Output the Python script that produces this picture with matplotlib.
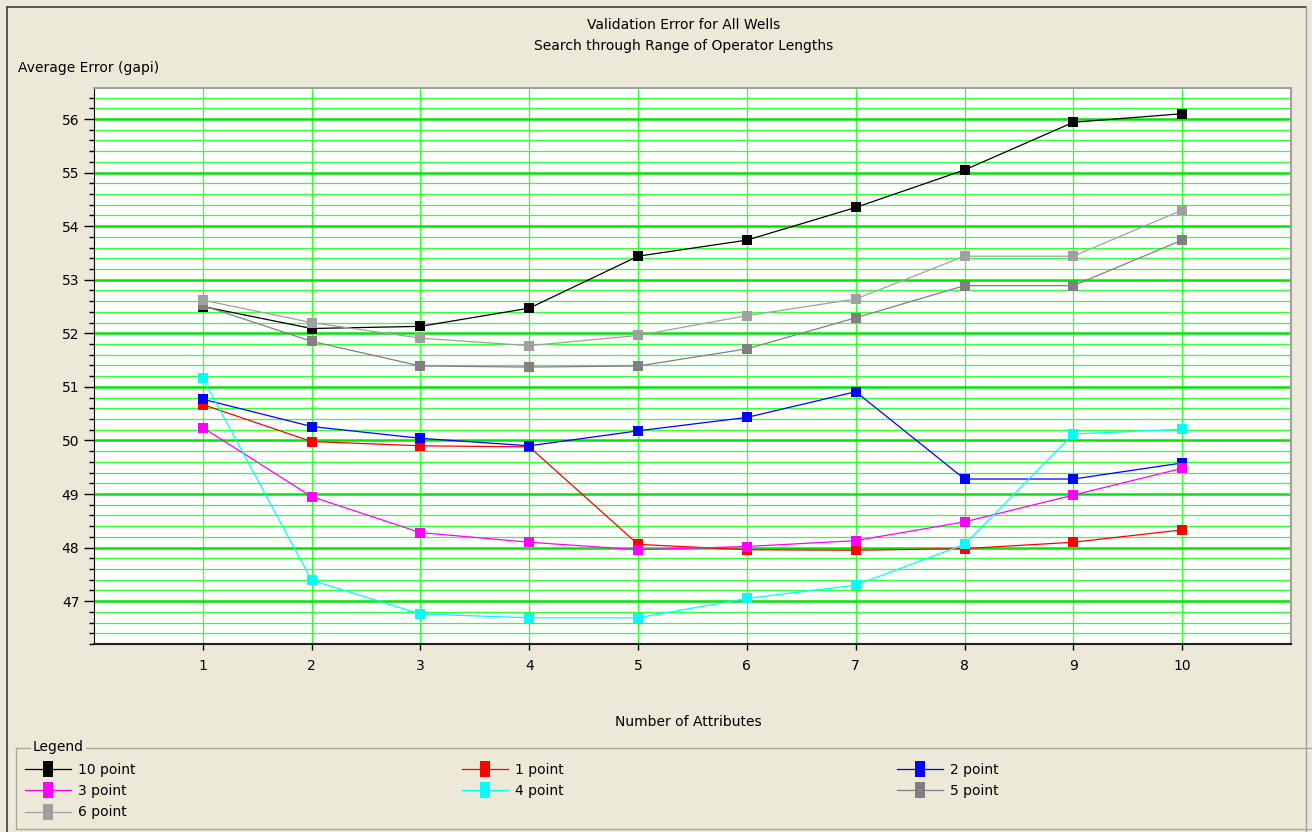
import matplotlib
matplotlib.use("Agg")
import matplotlib.pyplot as plt
from matplotlib.lines import Line2D
from matplotlib.patches import Rectangle
from matplotlib.ticker import MultipleLocator

attributes = [1, 2, 3, 4, 5, 6, 7, 8, 9, 10]

err_10pt = [52.50, 52.09, 52.13, 52.47, 53.44, 53.74, 54.35, 55.05, 55.94, 56.10]
err_1pt = [50.67, 49.98, 49.90, 49.88, 48.06, 47.96, 47.95, 47.98, 48.10, 48.33]
err_2pt = [50.77, 50.26, 50.04, 49.90, 50.18, 50.43, 50.91, 49.28, 49.28, 49.58]
err_3pt = [50.24, 48.95, 48.28, 48.10, 47.96, 48.02, 48.13, 48.48, 48.98, 49.48]
err_4pt = [51.16, 47.39, 46.76, 46.69, 46.69, 47.05, 47.30, 48.06, 50.12, 50.21]
err_5pt = [52.52, 51.85, 51.39, 51.37, 51.39, 51.71, 52.29, 52.89, 52.89, 53.74]
err_6pt = [52.62, 52.20, 51.91, 51.77, 51.96, 52.33, 52.64, 53.44, 53.44, 54.30]

series = [
    ("10 point", err_10pt, "#000000"),
    ("1 point", err_1pt, "#FF0000"),
    ("2 point", err_2pt, "#0000FF"),
    ("3 point", err_3pt, "#FF00FF"),
    ("4 point", err_4pt, "#00FFFF"),
    ("5 point", err_5pt, "#808080"),
    ("6 point", err_6pt, "#A0A0A0"),
]

W, H = 1312, 832
bg = "#ECE9D8"
plt.rcParams["font.family"] = ["DejaVu Sans"]
fs = 10

fig = plt.figure(figsize=(W / 100, H / 100), dpi=100, facecolor=bg)


def fx(px):
    return px / W


def fy(py):
    return 1 - py / H


# outer frame
fig.add_artist(Line2D([fx(7), fx(1306)], [fy(7), fy(7)], color="#404040", lw=1.2))
fig.add_artist(Line2D([fx(7), fx(7)], [fy(7), 0], color="#404040", lw=1.2))
fig.add_artist(Line2D([fx(1306), fx(1306)], [fy(7), 0], color="#A0A0A0", lw=1.0))

ax = fig.add_axes([fx(94), fy(644), fx(1291) - fx(94), fy(88) - fy(644)])
ax.set_facecolor("white")

for name, vals, col in series:
    ax.plot(attributes, vals, color=col, lw=0.9, marker="s", markersize=7.8,
            markeredgewidth=0, label=name)

ax.set_xlim(0, 11)
ax.set_ylim(46.2, 56.58)
ax.set_xticks(attributes)
ax.yaxis.set_major_locator(MultipleLocator(1))
ax.yaxis.set_minor_locator(MultipleLocator(0.2))

ax.grid(True, which="major", axis="y", color="#00E600", lw=1.8, zorder=0)
ax.grid(True, which="minor", axis="y", color="#33FF33", lw=0.9, zorder=0)
ax.grid(True, which="major", axis="x", color="#33FF33", lw=0.9, zorder=0)
ax.set_axisbelow(True)

ax.tick_params(axis="y", which="major", length=7, width=1, pad=3.5, labelsize=fs)
ax.tick_params(axis="y", which="minor", length=3.5, width=1)
ax.tick_params(axis="x", which="major", length=4, width=1, pad=7, labelsize=fs)
ax.tick_params(axis="x", which="minor", length=0)

ax.spines["left"].set_color("#000000")
ax.spines["bottom"].set_color("#202020")
ax.spines["bottom"].set_linewidth(1.5)
ax.spines["top"].set_color("#A0A0A0")
ax.spines["right"].set_color("#A0A0A0")
ax.spines["top"].set_linewidth(1.5)
ax.spines["right"].set_linewidth(1.5)

fig.text(fx(684), fy(25), "Validation Error for All Wells", ha="center",
         va="center", fontsize=fs)
fig.text(fx(684), fy(46), "Search through Range of Operator Lengths",
         ha="center", va="center", fontsize=fs)
fig.text(fx(18), fy(68), "Average Error (gapi)", ha="left", va="center",
         fontsize=fs)
fig.text(fx(688), fy(722), "Number of Attributes", ha="center", va="center",
         fontsize=fs)

# legend group box
fig.add_artist(Rectangle((fx(16), fy(829)), fx(1330) - fx(16), fy(748) - fy(829),
                         transform=fig.transFigure, fill=False,
                         edgecolor="#ACA899", lw=1.0))
fig.text(fx(33), fy(747), "Legend", ha="left", va="center", fontsize=fs,
         bbox=dict(facecolor=bg, edgecolor="none", pad=1.5))

legend_marker = [(-0.3, -0.5), (0.3, -0.5), (0.3, 0.5), (-0.3, 0.5), (-0.3, -0.5)]
handles = {}
for name, vals, col in series:
    handles[name] = Line2D([], [], color=col, lw=0.9, marker=legend_marker,
                           markersize=12, markeredgewidth=0)

columns = [
    (25, ["10 point", "3 point", "6 point"]),
    (462, ["1 point", "4 point"]),
    (897, ["2 point", "5 point"]),
]
for xpx, names in columns:
    fig.legend([handles[n] for n in names], names, loc="upper left",
               bbox_to_anchor=(fx(xpx), fy(763)), frameon=False,
               fontsize=fs, borderpad=0, borderaxespad=0,
               handlelength=3.3, handletextpad=0.5, labelspacing=0.52)

fig.savefig("out.png", dpi=100, facecolor=bg)
